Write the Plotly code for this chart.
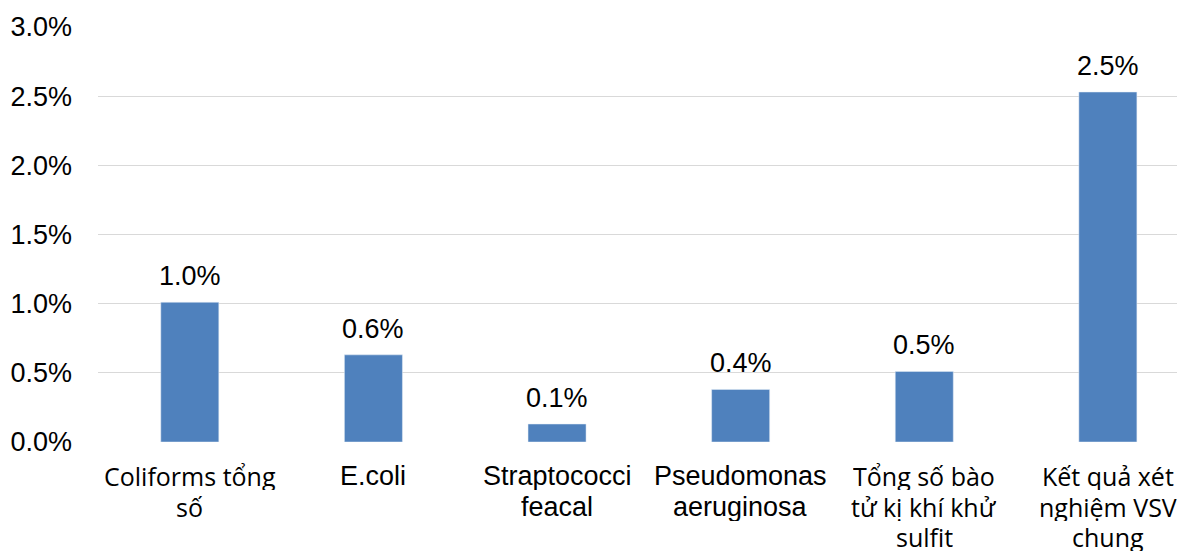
import plotly.graph_objects as go

categories = ["Coliforms tổng\nsố", "E.coli", "Straptococci\nfeacal", "Pseudomonas\naeruginosa",
              "Tổng số bào\ntử kị khí khử\nsulfit", "Kết quả xét\nnghiệm VSV\nchung"]
label_fonts = ["Open Sans", "Liberation Sans", "Liberation Sans", "Liberation Sans", "Open Sans", "Open Sans"]
label_sizes = [25, 27, 27, 27, 25, 25]
values = [0.0101, 0.0063, 0.0013, 0.0038, 0.0051, 0.0253]
value_labels = ["1.0%", "0.6%", "0.1%", "0.4%", "0.5%", "2.5%"]
y_ticks = [0, 0.005, 0.01, 0.015, 0.02, 0.025, 0.03]

x = list(range(len(categories)))

fig = go.Figure(go.Bar(
    x=x, y=values, width=0.316, marker_color="#4F81BD",
))

annotations = []
# value labels above bars
for xi, v, t in zip(x, values, value_labels):
    annotations.append(dict(
        x=xi, y=v, xref="x", yref="y", text=t, showarrow=False,
        yanchor="bottom", xanchor="center", yshift=9,
        font=dict(family="Liberation Sans, Arial", size=27, color="#000000"),
    ))
# category labels, line by line
LINE = 30.5
for xi, cat, fam, sz in zip(x, categories, label_fonts, label_sizes):
    for i, line in enumerate(cat.split("\n")):
        annotations.append(dict(
            x=xi, y=0, xref="x", yref="paper", text=line, showarrow=False,
            yanchor="middle", xanchor="center", yshift=-(34 + i * LINE),
            height=28, borderpad=0,
            font=dict(family=fam, size=sz, color="#000000"),
        ))

fig.update_layout(
    width=1177, height=545,
    margin=dict(l=90, r=0, t=19, b=111, autoexpand=False),
    plot_bgcolor="white", paper_bgcolor="white",
    showlegend=False,
    font=dict(family="Liberation Sans, Arial", color="#000000"),
    annotations=annotations,
)
fig.update_xaxes(
    tickvals=x, showticklabels=False, range=[-0.5, 5.42],
    ticks="", showgrid=False, showline=False, zeroline=False, automargin=False,
)
fig.update_yaxes(
    range=[0, 0.03], tickvals=y_ticks, tickformat=".1%",
    tickfont=dict(size=27, color="#000000"),
    showgrid=True, gridcolor="#D9D9D9", gridwidth=1.3,
    zeroline=False, showline=False, ticklabelstandoff=25, automargin=False,
)
fig.write_html("out.html")
